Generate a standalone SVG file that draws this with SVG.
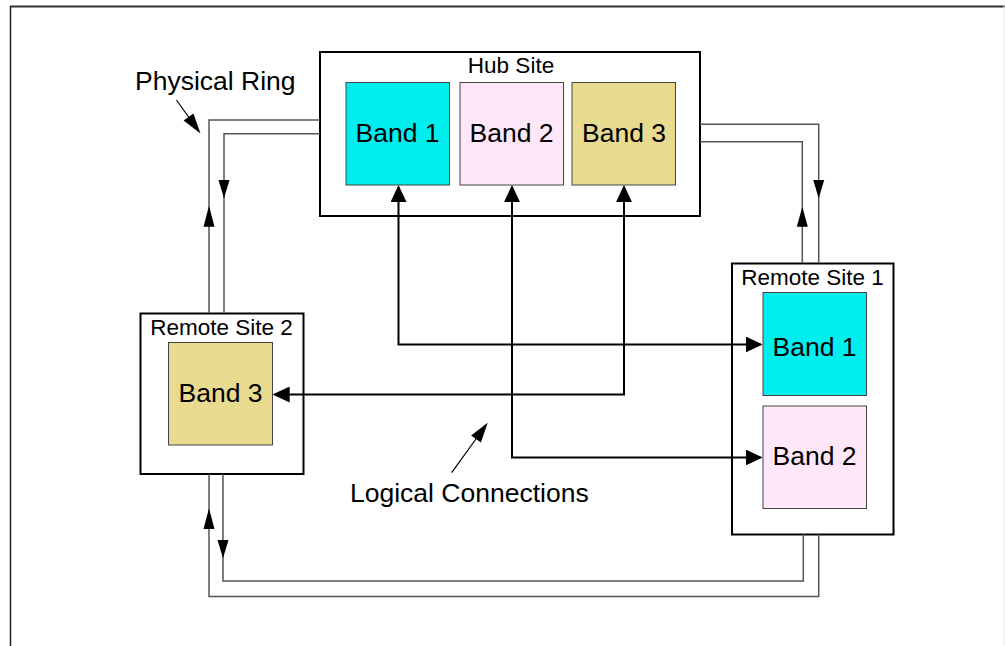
<svg xmlns="http://www.w3.org/2000/svg" width="1005" height="646" viewBox="0 0 1005 646">
<style>
.site{fill:#fff;stroke:#000;stroke-width:2}
.band{stroke:#444;stroke-width:1}
.b1{fill:#00EEEE}.b2{fill:#FFE6F8}.b3{fill:#E8DA8E}
.ring{fill:none;stroke:#555;stroke-width:1.5}
.rarrow{fill:#000}
.logic{fill:none;stroke:#000;stroke-width:2;marker-start:url(#ah);marker-end:url(#ah)}
.lbl{font-family:"Liberation Sans",Arial,sans-serif;fill:#000}
.big{font-size:26.5px}
.small{font-size:22.5px}
.ptr{stroke:#000;stroke-width:1.2}
</style>
<defs>
<marker id="ah" markerUnits="userSpaceOnUse" viewBox="0 0 17 16" refX="15" refY="8" markerWidth="17" markerHeight="16" orient="auto-start-reverse">
<path d="M0,0 L17,8 L0,16 z" fill="#000"/>
</marker>
</defs>
<rect width="1005" height="646" fill="#fff"/>
<g id="frame">
<line x1="10" y1="6.5" x2="1005" y2="6.5" stroke="#333" stroke-width="2"/>
<line x1="10.5" y1="6" x2="10.5" y2="646" stroke="#222" stroke-width="1.5"/>
<line x1="1004" y1="6" x2="1004" y2="646" stroke="#e4e4e4" stroke-width="1"/>
</g>
<g id="hub-site">
<rect class="site" x="320" y="52" width="380" height="164"/>
<text class="lbl small" x="511" y="73" text-anchor="middle">Hub Site</text>
<rect class="band b1" x="346" y="82.5" width="103.5" height="102.5"/>
<text class="lbl big" x="397.5" y="142" text-anchor="middle">Band 1</text>
<rect class="band b2" x="460" y="82.5" width="103.5" height="102.5"/>
<text class="lbl big" x="511.5" y="142" text-anchor="middle">Band 2</text>
<rect class="band b3" x="572" y="82.5" width="103.5" height="102.5"/>
<text class="lbl big" x="624" y="142" text-anchor="middle">Band 3</text>
</g>
<g id="remote-site-1">
<rect class="site" x="732" y="263.5" width="161.5" height="271"/>
<text class="lbl small" x="812.5" y="285" text-anchor="middle">Remote Site 1</text>
<rect class="band b1" x="763" y="292.5" width="103.5" height="103"/>
<text class="lbl big" x="814.5" y="356" text-anchor="middle">Band 1</text>
<rect class="band b2" x="763" y="406" width="103.5" height="102.5"/>
<text class="lbl big" x="814.5" y="465" text-anchor="middle">Band 2</text>
</g>
<g id="remote-site-2">
<rect class="site" x="140.5" y="313.5" width="163" height="160.5"/>
<text class="lbl small" x="221.5" y="335" text-anchor="middle">Remote Site 2</text>
<rect class="band b3" x="168.5" y="342.5" width="104" height="102.5"/>
<text class="lbl big" x="220.5" y="402" text-anchor="middle">Band 3</text>
</g>
<g id="connectors">
<g id="physical-ring">
<path class="ring" d="M320,120 H209 V313"/>
<path class="ring" d="M320,133.7 H224 V313"/>
<path class="ring" d="M700,124.3 H818.7 V263"/>
<path class="ring" d="M700,141.7 H802.3 V263"/>
<path class="ring" d="M209,474 V596.5 H818.7 V534"/>
<path class="ring" d="M223,474 V581 H803.3 V534"/>
<path class="rarrow" d="M218.5,180 L229.5,180 L224,198.3 z"/>
<path class="rarrow" d="M203.5,226.7 L214.5,226.7 L209,205.7 z"/>
<path class="rarrow" d="M813.2,180 L824.2,180 L818.7,198.3 z"/>
<path class="rarrow" d="M796.8,226.7 L807.8,226.7 L802.3,206.7 z"/>
<path class="rarrow" d="M203.5,529 L214.5,529 L209,508.3 z"/>
<path class="rarrow" d="M217.5,540 L228.5,540 L223,558.3 z"/>
</g>
<g id="logical-connections">
<path class="logic" d="M398.5,187 V344.5 H760.7"/>
<path class="logic" d="M512,187 V457.5 H760.7"/>
<path class="logic" d="M624,187 V394.5 H274.7"/>
</g>
</g>
<g id="label-physical-ring">
<text class="lbl big" x="135" y="90">Physical Ring</text>
<line class="ptr" x1="176.5" y1="100" x2="190" y2="119"/>
<path d="M183.6,120.5 L193.4,113.5 L200.5,133.5 z" fill="#000"/>
</g>
<g id="label-logical-connections">
<text class="lbl big" x="350" y="502">Logical Connections</text>
<line class="ptr" x1="451.7" y1="472.7" x2="477" y2="437.5"/>
<path d="M480.9,442.4 L471.1,435.4 L487.7,422.7 z" fill="#000"/>
</g>
</svg>
